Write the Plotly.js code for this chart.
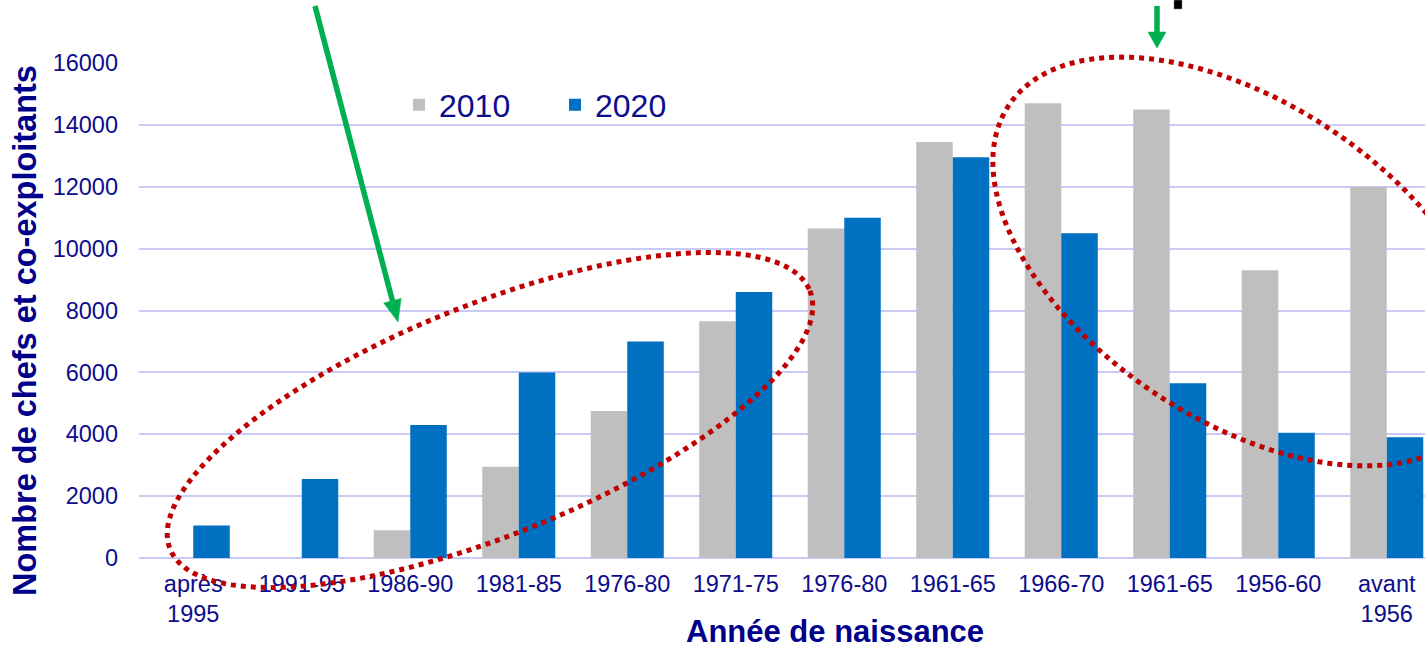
<!DOCTYPE html>
<html>
<head>
<meta charset="utf-8">
<script src="https://cdn.plot.ly/plotly-3.0.1.min.js"></script>
<style>
html,body{margin:0;padding:0;background:#fff;overflow:hidden;}
#chart{width:1425px;height:650px;}
</style>
</head>
<body>
<div id="chart"></div>
<script>
// ---- data ----
const categories = ['après<br>1995','1991-95','1986-90','1981-85','1976-80','1971-75','1976-80','1961-65','1966-70','1961-65','1956-60','avant<br>1956'];
const values2010 = [null, null, 900, 2950, 4750, 7650, 10650, 13450, 14700, 14500, 9300, 12000];
const values2020 = [1050, 2550, 4300, 6000, 7000, 8600, 11000, 12950, 10500, 5650, 4050, 3900];
const seriesNames = ['2010', '2020'];
const yTicks = [0, 2000, 4000, 6000, 8000, 10000, 12000, 14000, 16000];

const positions = categories.map((c, i) => i);

// ---- layout geometry (pixels) ----
const W = 1425, H = 650;
const mL = 139, mR = 0, mT = 63, mB = 92;
const plotW = W - mL - mR, plotH = H - mT - mB;
const px = x => (x - mL) / plotW;
const py = y => (H - mB - y) / plotH;

const tickColor = '#0c0c8c';
const titleColor = '#00008b';
const font = 'Arial, "Liberation Sans", sans-serif';

function ellipsePath(cx, cy, a, b, deg) {
  const t = deg * Math.PI / 180, n = 160;
  let d = '';
  for (let k = 0; k <= n; k++) {
    const s = 2 * Math.PI * k / n;
    const x = cx + a * Math.cos(s) * Math.cos(t) - b * Math.sin(s) * Math.sin(t);
    const y = cy + a * Math.cos(s) * Math.sin(t) + b * Math.sin(s) * Math.cos(t);
    d += (k === 0 ? 'M' : 'L') + px(x).toFixed(5) + ',' + py(y).toFixed(5);
  }
  return d + 'Z';
}

function arrowShapes(x0, y0, x1, y1, lw, hl, hw, color) {
  const dx = x1 - x0, dy = y1 - y0, L = Math.hypot(dx, dy);
  const ux = dx / L, uy = dy / L, nx = -uy, ny = ux;
  const bx = x1 - ux * hl, by = y1 - uy * hl;
  return [
    {type:'line', xref:'paper', yref:'paper', x0:px(x0), y0:py(y0), x1:px(bx + ux*2), y1:py(by + uy*2),
     line:{color:color, width:lw}},
    {type:'path', xref:'paper', yref:'paper',
     path:'M'+px(x1)+','+py(y1)+'L'+px(bx+nx*hw)+','+py(by+ny*hw)+'L'+px(bx-nx*hw)+','+py(by-ny*hw)+'Z',
     fillcolor:color, line:{color:color, width:0.5}}
  ];
}

const green = '#00b050';
const red = '#c00000';

const shapes = [
  {type:'path', xref:'paper', yref:'paper', path: ellipsePath(490, 420, 345, 115, -22),
   line:{color:red, width:5, dash:'5px,5px'}},
  {type:'path', xref:'paper', yref:'paper', path: ellipsePath(1243, 261.5, 281.5, 158.5, 33.7),
   line:{color:red, width:5, dash:'5px,5px'}},
  ...arrowShapes(315, 6, 398, 322, 5.5, 22, 9, green),
  ...arrowShapes(1157, 6, 1157, 48, 5.5, 16, 9, green),
  {type:'rect', xref:'paper', yref:'paper', x0:px(1174), x1:px(1182), y0:py(0), y1:py(9),
   fillcolor:'#000', line:{color:'#888', width:0.5}}
];

const traces = [
  {type:'bar', name:seriesNames[0], x:positions, y:values2010, marker:{color:'#bfbfbf'}, hoverinfo:'y'},
  {type:'bar', name:seriesNames[1], x:positions, y:values2020, marker:{color:'#0070c0'}, hoverinfo:'y'}
];

const layout = {
  width: W, height: H,
  margin: {l:mL, r:mR, t:mT, b:mB, pad:0},
  paper_bgcolor:'#fff', plot_bgcolor:'#fff',
  barmode:'group', bargap:0.327, bargroupgap:0,
  font:{family:font, color:tickColor, size:23.5},
  xaxis:{
    range:[-0.5, 11.5 - 16/108.5],
    tickvals: positions, ticktext: categories,
    showgrid:false, zeroline:false, showline:false, ticks:'',
    tickfont:{family:font, size:23.5, color:tickColor},
    ticklabelstandoff: 9, fixedrange:true
  },
  yaxis:{
    range:[0, 16000], tickvals:yTicks, ticktext:yTicks.map(String),
    showgrid:true, gridcolor:'#cacaf6', gridwidth:2,
    zeroline:true, zerolinecolor:'#cacaf6', zerolinewidth:2,
    showline:false, ticks:'',
    tickfont:{family:font, size:23.5, color:tickColor},
    ticklabelstandoff: 20, fixedrange:true
  },
  showlegend:true,
  legend:{orientation:'h', x:px(399), y:py(105), xanchor:'left', yanchor:'middle',
    font:{family:font, size:32, color:tickColor}, bgcolor:'rgba(0,0,0,0)',
    entrywidth:111, traceorder:'normal'},
  shapes: shapes,
  annotations:[
    {xref:'paper', yref:'paper', x:px(835), y:py(631), text:'<b>Année de naissance</b>', showarrow:false,
     font:{family:font, size:31, color:titleColor}, xanchor:'center', yanchor:'middle', borderpad:0},
    {xref:'paper', yref:'paper', x:px(25), y:py(331), text:'<b>Nombre de chefs et co-exploitants</b>', showarrow:false,
     textangle:-90, font:{family:font, size:32.5, color:titleColor}, xanchor:'center', yanchor:'middle', borderpad:0}
  ]
};

Plotly.newPlot('chart', traces, layout, {displayModeBar:false, staticPlot:true});
</script>
</body>
</html>
